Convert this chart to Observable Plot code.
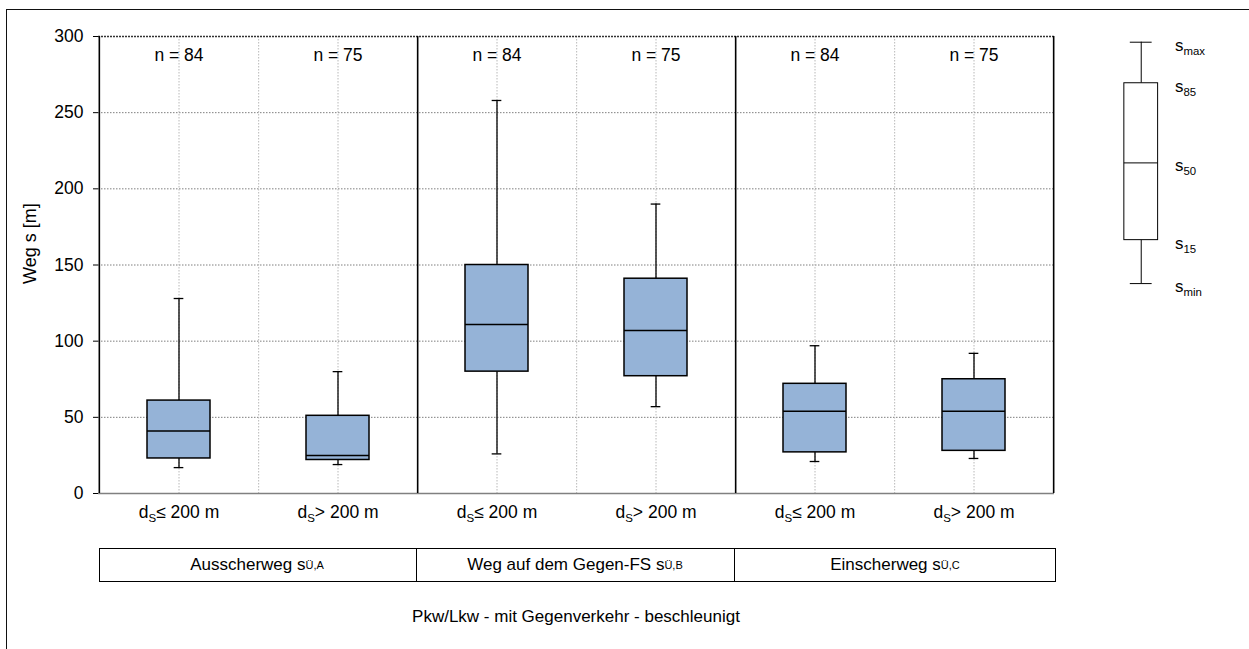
<!DOCTYPE html>
<html>
<head>
<meta charset="utf-8">
<script src="https://cdn.jsdelivr.net/npm/d3@7"></script>
<script src="https://cdn.jsdelivr.net/npm/@observablehq/plot@0.6"></script>
<style>
html,body{margin:0;padding:0;background:#fff;}
body{font-family:"Liberation Sans",Arial,sans-serif;color:#000;}
#wrap{position:relative;width:1249px;height:649px;overflow:hidden;background:#fff;}
#frame{position:absolute;left:6px;top:9px;width:1400px;height:800px;border-left:1.6px solid #111;border-top:1.6px solid #111;}
#main{position:absolute;left:0;top:0;}
#legend{position:absolute;left:1100px;top:0;}
#table{position:absolute;top:548px;height:34px;box-sizing:border-box;border:1.5px solid #000;}
.cell{position:absolute;top:0;height:100%;box-sizing:border-box;display:flex;align-items:center;justify-content:center;font-size:17px;white-space:nowrap;}
.cell.div{border-right:1.5px solid #000;}
.cell sub{font-size:11px;vertical-align:-0.3em;line-height:0;}
#caption{position:absolute;top:606px;height:22px;font-size:17px;text-align:center;line-height:22px;}
</style>
</head>
<body>
<div id="wrap">
  <div id="frame"></div>
  <div id="main"></div>
  <div id="legend"></div>
  <div id="table"></div>
  <div id="caption"></div>
</div>
<script>
// ---- data ----
const groups = ["Ausscherweg s{Ü,A}", "Weg auf dem Gegen-FS s{Ü,B}", "Einscherweg s{Ü,C}"];
const categories = ["A1", "A2", "B1", "B2", "C1", "C2"];
const catGroup = [0, 0, 1, 1, 2, 2];
const catLabels = ["d{S}≤ 200 m", "d{S}> 200 m", "d{S}≤ 200 m", "d{S}> 200 m", "d{S}≤ 200 m", "d{S}> 200 m"];
const nValues = [84, 75, 84, 75, 84, 75];
const sMin = [17, 19, 26, 57, 21, 23];
const s15  = [23, 22, 80, 77, 27, 28];
const s50  = [41, 25, 111, 107, 54, 54];
const s85  = [61, 51, 150, 141, 72, 75];
const sMax = [128, 80, 258, 190, 97, 92];
const yTicks = [0, 50, 100, 150, 200, 250, 300];
const yLabel = "Weg s [m]";
const caption = "Pkw/Lkw - mit Gegenverkehr - beschleunigt";
const legendKeys = ["s{max}", "s{85}", "s{50}", "s{15}", "s{min}"];
const legendValues = [100, 83, 50, 18, 0];

// ---- helpers ----
const FONT = '"Liberation Sans", Arial, sans-serif';
function richSVG(root) {
  root.querySelectorAll("text").forEach(node => {
    const s = node.textContent;
    if (!s.includes("{")) return;
    const parts = s.split(/(\{[^}]*\})/).filter(p => p !== "");
    node.textContent = "";
    let shifted = false;
    parts.forEach(p => {
      const t = document.createElementNS("http://www.w3.org/2000/svg", "tspan");
      if (p.startsWith("{")) {
        t.textContent = p.slice(1, -1);
        t.setAttribute("font-size", "11.5px");
        t.setAttribute("dy", "4");
        shifted = true;
      } else {
        t.textContent = p;
        if (shifted) { t.setAttribute("dy", "-4"); shifted = false; }
      }
      node.appendChild(t);
    });
  });
}
const richHTML = s => s.replace(/\{([^}]*)\}/g, "<sub>$1</sub>");

// ---- main chart ----
const rows = categories.map((c, i) => ({
  cat: c, n: nValues[i], min: sMin[i], q15: s15[i], q50: s50[i], q85: s85[i], max: sMax[i]
}));
const W = 1249, H = 649, mL = 98, mR = 195, mT = 36, mB = 156;
const bw = (W - mL - mR) / categories.length;
const boxInset = 48;
const capInset = (bw - 10) / 2;
const firstInGroup = categories.filter((c, i) => i < categories.length - 1 && catGroup[i] === catGroup[i + 1]);
const lastInGroup = categories.filter((c, i) => i < categories.length - 1 && catGroup[i] !== catGroup[i + 1]).concat([categories[categories.length - 1]]);

const plot = Plot.plot({
  width: W, height: H,
  marginLeft: mL, marginRight: mR, marginTop: mT, marginBottom: mB,
  style: {fontFamily: FONT, fontSize: "17.5px", background: "transparent", color: "#000", overflow: "visible"},
  x: {domain: categories, padding: 0, label: null},
  y: {domain: [0, 300], label: null},
  marks: [
    Plot.gridY({ticks: yTicks.filter(v => v > 0 && v < 300), stroke: "#7f7f7f", strokeOpacity: 1, strokeDasharray: "1.5,1.5"}),
    Plot.gridX({stroke: "#b8b8b8", strokeOpacity: 1, strokeDasharray: "1.5,1.5"}),
    Plot.ruleX(firstInGroup, {dx: bw / 2, stroke: "#b8b8b8", strokeDasharray: "1.5,1.5"}),
    Plot.ruleY([300], {stroke: "#333", strokeWidth: 1.6, strokeDasharray: "2,1"}),
    Plot.ruleY([0], {stroke: "#808080", strokeWidth: 1.5}),
    Plot.ruleX([categories[0]], {dx: -bw / 2, stroke: "#000", strokeWidth: 1.6}),
    Plot.ruleX(lastInGroup, {dx: bw / 2, stroke: "#000", strokeWidth: 1.6}),
    Plot.axisY({ticks: yTicks, tickSize: 5, tickPadding: 10, label: null, fontSize: 17.5}),
    Plot.axisX({tickSize: 0, tickPadding: 12, label: null, fontSize: 17.5,
      tickFormat: c => catLabels[categories.indexOf(c)]}),
    Plot.text([yLabel], {frameAnchor: "left", rotate: -90, dx: -68, dy: 19, fontSize: 18}),
    Plot.ruleX(rows, {x: "cat", y1: "min", y2: "q15", stroke: "#000", strokeWidth: 1.3}),
    Plot.ruleX(rows, {x: "cat", y1: "q85", y2: "max", stroke: "#000", strokeWidth: 1.3}),
    Plot.tickY(rows, {x: "cat", y: "min", insetLeft: capInset, insetRight: capInset, stroke: "#000", strokeWidth: 1.3}),
    Plot.tickY(rows, {x: "cat", y: "max", insetLeft: capInset, insetRight: capInset, stroke: "#000", strokeWidth: 1.3}),
    Plot.barY(rows, {x: "cat", y1: "q15", y2: "q85", fill: "#95B3D7", stroke: "#000", strokeWidth: 1.5,
      insetLeft: boxInset, insetRight: boxInset}),
    Plot.tickY(rows, {x: "cat", y: "q50", insetLeft: boxInset, insetRight: boxInset, stroke: "#000", strokeWidth: 1.5}),
    Plot.text(rows, {x: "cat", frameAnchor: "top", lineAnchor: "middle", dy: 19, text: d => `n = ${d.n}`, fontSize: 17.5})
  ]
});
richSVG(plot);
document.getElementById("main").appendChild(plot);

// ---- group table & caption, placed from the x scale ----
const xs = plot.scale("x");
const x0 = xs.apply(categories[0]);
const x1 = xs.apply(categories[categories.length - 1]) + xs.bandwidth;
const table = document.getElementById("table");
table.style.left = x0 + "px";
table.style.width = (x1 - x0 + 3) + "px";
groups.forEach((g, gi) => {
  const cats = categories.filter((c, i) => catGroup[i] === gi);
  const l = xs.apply(cats[0]) - x0;
  const r = xs.apply(cats[cats.length - 1]) + xs.bandwidth - x0;
  const cell = document.createElement("div");
  cell.className = "cell" + (gi < groups.length - 1 ? " div" : "");
  cell.style.left = (l - 1.5) + "px";
  cell.style.width = (r - l + (gi === groups.length - 1 ? 3 : 0)) + "px";
  cell.innerHTML = richHTML(g);
  table.appendChild(cell);
});
const cap = document.getElementById("caption");
cap.style.left = x0 + "px";
cap.style.width = (x1 - x0) + "px";
cap.textContent = caption;

// ---- legend ----
const legendBox = [{k: "k", min: legendValues[4], q15: legendValues[3], q50: legendValues[2], q85: legendValues[1], max: legendValues[0]}];
const legendLabels = legendKeys.map((s, i) => ({k: "k", label: s, v: legendValues[i]}));
const legend = Plot.plot({
  width: 150, height: 305,
  marginLeft: 24, marginRight: 92, marginTop: 42, marginBottom: 20,
  style: {fontFamily: FONT, fontSize: "17px", background: "transparent", color: "#000", overflow: "visible"},
  x: {domain: ["k"], padding: 0, axis: null},
  y: {domain: [0, 100], axis: null},
  marks: [
    Plot.ruleX(legendBox, {x: "k", y1: "min", y2: "q15", stroke: "#000", strokeWidth: 1}),
    Plot.ruleX(legendBox, {x: "k", y1: "q85", y2: "max", stroke: "#000", strokeWidth: 1}),
    Plot.tickY(legendBox, {x: "k", y: "min", insetLeft: 6, insetRight: 6, stroke: "#000", strokeWidth: 1}),
    Plot.tickY(legendBox, {x: "k", y: "max", insetLeft: 6, insetRight: 6, stroke: "#000", strokeWidth: 1}),
    Plot.barY(legendBox, {x: "k", y1: "q15", y2: "q85", fill: "#fff", stroke: "#000", strokeWidth: 1}),
    Plot.tickY(legendBox, {x: "k", y: "q50", stroke: "#000", strokeWidth: 1}),
    Plot.text(legendLabels, {x: "k", y: "v", text: "label", textAnchor: "start", dx: 34, dy: 3, fontSize: 17})
  ]
});
richSVG(legend);
document.getElementById("legend").appendChild(legend);
</script>
</body>
</html>
